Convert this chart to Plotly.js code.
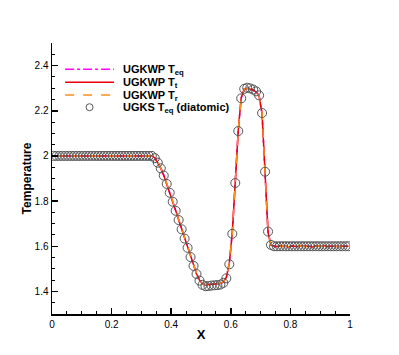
<!DOCTYPE html>
<html>
<head>
<meta charset="utf-8">
<script src="https://cdn.plot.ly/plotly-3.0.1.min.js"></script>
<style>
  html, body { margin: 0; padding: 0; background: #fff; }
  #plot { width: 399px; height: 355px; }
</style>
</head>
<body>
<div id="plot"></div>
<script>
// cell centres (100 cells on [0,1])
const xCell = [
  0.005,0.015,0.025,0.035,0.045,0.055,0.065,0.075,0.085,0.095,
  0.105,0.115,0.125,0.135,0.145,0.155,0.165,0.175,0.185,0.195,
  0.205,0.215,0.225,0.235,0.245,0.255,0.265,0.275,0.285,0.295,
  0.305,0.315,0.325,0.335,0.345,0.355,0.365,0.375,0.385,0.395,
  0.405,0.415,0.425,0.435,0.445,0.455,0.465,0.475,0.485,0.495,
  0.505,0.515,0.525,0.535,0.545,0.555,0.565,0.575,0.585,0.595,
  0.605,0.615,0.625,0.635,0.645,0.655,0.665,0.675,0.685,0.695,
  0.705,0.715,0.725,0.735,0.745,0.755,0.765,0.775,0.785,0.795,
  0.805,0.815,0.825,0.835,0.845,0.855,0.865,0.875,0.885,0.895,
  0.905,0.915,0.925,0.935,0.945,0.955,0.965,0.975,0.985,0.995
];

// UGKS T_eq (diatomic) - circles
const ugksTeq = [
  2.0,2.0,2.0,2.0,2.0,2.0,2.0,2.0,2.0,2.0,
  2.0,2.0,2.0,2.0,2.0,2.0,2.0,2.0,2.0,2.0,
  2.0,2.0,2.0,2.0,2.0,2.0,2.0,2.0,2.0,2.0,
  2.0,2.0,2.0,2.0,1.99,1.97,1.945,1.913,1.876,1.837,
  1.797,1.757,1.716,1.675,1.634,1.593,1.552,1.513,1.477,1.448,
  1.429,1.423,1.424,1.426,1.427,1.428,1.430,1.438,1.458,1.52,
  1.655,1.88,2.11,2.255,2.297,2.302,2.299,2.294,2.286,2.268,
  2.19,1.93,1.665,1.606,1.6,1.6,1.6,1.6,1.6,1.6,
  1.6,1.6,1.6,1.6,1.6,1.6,1.6,1.6,1.6,1.6,
  1.6,1.6,1.6,1.6,1.6,1.6,1.6,1.6,1.6,1.6
];

// UGKWP temperatures
const wpTt = [
  2.0,2.0,2.0,2.0,2.0,2.0,2.0,2.0,2.0,2.0,
  2.0,2.0,2.0,2.0,2.0,2.0,2.0,2.0,2.0,2.0,
  2.0,2.0,2.0,2.0,2.0,2.0,2.0,2.0,2.0,2.0,
  2.0,2.0,2.0,2.0,1.992,1.972,1.946,1.914,1.877,1.838,
  1.798,1.758,1.717,1.676,1.635,1.594,1.553,1.514,1.478,1.450,
  1.433,1.429,1.430,1.431,1.432,1.433,1.435,1.442,1.462,1.525,
  1.66,1.885,2.115,2.258,2.296,2.300,2.297,2.292,2.284,2.266,
  2.185,1.925,1.66,1.604,1.600,1.598,1.603,1.599,1.601,1.597,
  1.602,1.600,1.598,1.603,1.599,1.601,1.600,1.597,1.602,1.600,
  1.599,1.603,1.598,1.601,1.600,1.602,1.598,1.601,1.599,1.600
];

const wpTr = [
  2.0,2.0,2.0,2.0,2.0,2.0,2.0,2.0,2.0,2.0,
  2.0,2.0,2.0,2.0,2.0,2.0,2.0,2.0,2.0,2.0,
  2.0,2.0,2.0,2.0,2.0,2.0,2.0,2.0,2.0,2.0,
  2.0,2.0,2.0,2.0,1.993,1.973,1.947,1.915,1.878,1.839,
  1.799,1.759,1.718,1.677,1.636,1.595,1.554,1.515,1.479,1.451,
  1.434,1.430,1.431,1.432,1.433,1.434,1.436,1.443,1.463,1.524,
  1.658,1.882,2.112,2.256,2.295,2.299,2.296,2.291,2.283,2.265,
  2.188,1.928,1.662,1.605,1.601,1.600,1.599,1.602,1.600,1.598,
  1.601,1.599,1.602,1.600,1.601,1.598,1.601,1.600,1.599,1.602,
  1.600,1.601,1.599,1.600,1.602,1.599,1.600,1.601,1.600,1.600
];

const wpTeq = [
  2.0,2.0,2.0,2.0,2.0,2.0,2.0,2.0,2.0,2.0,
  2.0,2.0,2.0,2.0,2.0,2.0,2.0,2.0,2.0,2.0,
  2.0,2.0,2.0,2.0,2.0,2.0,2.0,2.0,2.0,2.0,
  2.0,2.0,2.0,2.0,1.992,1.972,1.946,1.914,1.877,1.838,
  1.798,1.758,1.717,1.676,1.635,1.594,1.553,1.514,1.478,1.450,
  1.433,1.429,1.430,1.431,1.432,1.433,1.435,1.442,1.462,1.525,
  1.659,1.884,2.114,2.257,2.296,2.300,2.297,2.292,2.284,2.266,
  2.186,1.926,1.661,1.604,1.600,1.599,1.601,1.600,1.600,1.598,
  1.601,1.600,1.599,1.602,1.600,1.600,1.600,1.598,1.601,1.600,
  1.600,1.602,1.599,1.600,1.600,1.601,1.599,1.600,1.600,1.600
];

const legendNames = [
  "UGKWP T<sub>eq</sub>",
  "UGKWP T<sub>t</sub>",
  "UGKWP T<sub>r</sub>",
  "UGKS T<sub>eq</sub> (diatomic)"
];

const lineStyles = [
  { color: "#ff00ff", width: 1.5, dash: "dashdot" },
  { color: "#e8000b", width: 1.5, dash: "solid" },
  { color: "#ff8c1a", width: 1.5, dash: "dash" }
];
const markerStyle = { symbol: "circle-open", size: 9, color: "#555", line: { width: 1 } };

const traces = [
  { x: xCell, y: wpTeq, mode: "lines", name: legendNames[0], line: lineStyles[0] },
  { x: xCell, y: wpTt, mode: "lines", name: legendNames[1], line: lineStyles[1] },
  { x: xCell, y: wpTr, mode: "lines", name: legendNames[2], line: lineStyles[2] },
  { x: xCell, y: ugksTeq, mode: "markers", name: legendNames[3], marker: markerStyle }
];

// hand-made legend (Tecplot style, tight rows)
const legX0 = 0.044, legX1 = 0.208, legTextX = 0.23;
const legRowY = [0.903, 0.855, 0.808, 0.763];
const shapes = [];
const annotations = [];
for (let i = 0; i < 4; i++) {
  if (i < 3) {
    shapes.push({
      type: "line", xref: "paper", yref: "paper",
      x0: legX0, x1: legX1, y0: legRowY[i], y1: legRowY[i],
      line: lineStyles[i]
    });
  } else {
    const cx = (legX0 + legX1) / 2;
    shapes.push({
      type: "circle", xref: "paper", yref: "paper",
      x0: cx - 3.5 / 298, x1: cx + 3.5 / 298,
      y0: legRowY[i] - 3.5 / 271, y1: legRowY[i] + 3.5 / 271,
      line: { color: "#555", width: 1 }
    });
  }
  annotations.push({
    xref: "paper", yref: "paper", x: legTextX, y: legRowY[i] - 0.004,
    xanchor: "left", yanchor: "middle", showarrow: false,
    text: "<b>" + legendNames[i] + "</b>",
    font: { size: 11, color: "#000" }
  });
}

const layout = {
  width: 399,
  height: 355,
  margin: { l: 52, r: 49, t: 43, b: 41 },
  paper_bgcolor: "#fff",
  plot_bgcolor: "#fff",
  font: { family: "Liberation Sans, Arial, sans-serif", size: 10, color: "#000" },
  showlegend: false,
  shapes: shapes,
  annotations: annotations,
  xaxis: {
    range: [0, 1],
    dtick: 0.2,
    ticks: "inside", ticklen: 6, tickwidth: 1.5, tickcolor: "#000",
    minor: { dtick: 0.05, ticks: "inside", ticklen: 3, tickwidth: 1, tickcolor: "#000" },
    showline: true, linecolor: "#000", linewidth: 1.5,
    showgrid: false, zeroline: false,
    title: { text: "<b>X</b>", font: { size: 13 }, standoff: 1 }
  },
  yaxis: {
    range: [1.3, 2.5],
    dtick: 0.2, tick0: 1.4,
    ticks: "inside", ticklen: 6, tickwidth: 1.5, tickcolor: "#000",
    minor: { dtick: 0.05, ticks: "inside", ticklen: 3, tickwidth: 1, tickcolor: "#000" },
    showline: true, linecolor: "#000", linewidth: 1.5,
    showgrid: false, zeroline: false,
    title: { text: "<b>Temperature</b>", font: { size: 12 }, standoff: 0 }
  }
};

Plotly.newPlot("plot", traces, layout, { displayModeBar: false, staticPlot: true });
</script>
</body>
</html>
